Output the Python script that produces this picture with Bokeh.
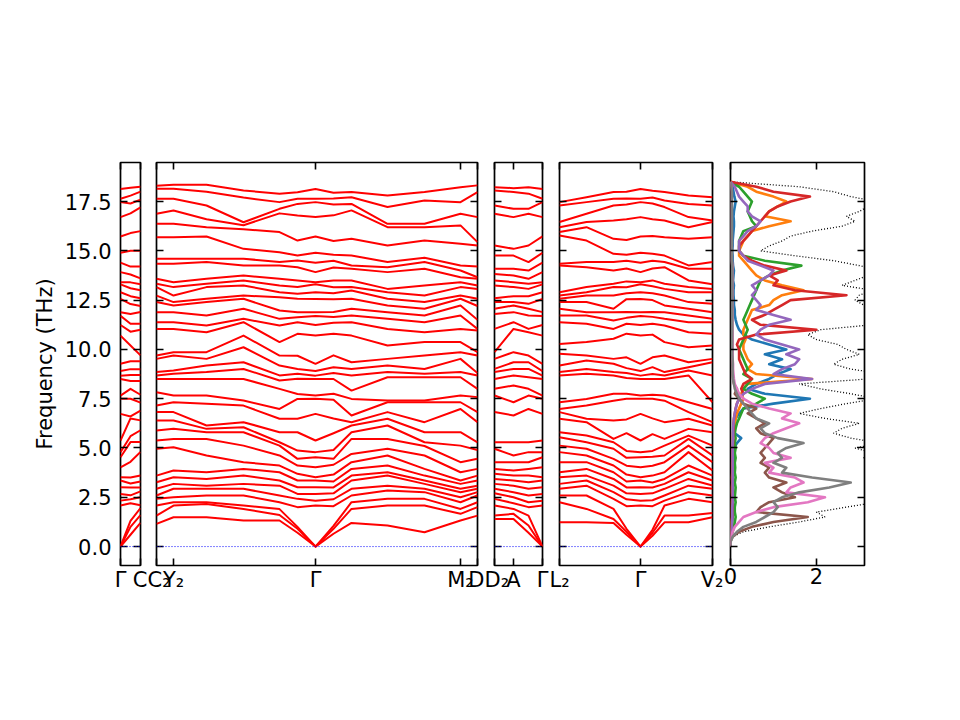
import numpy as np
from bokeh.plotting import figure
from bokeh.layouts import row
from bokeh.models import FixedTicker, LinearAxis, Range1d, PrintfTickFormatter, Span, CustomJSTickFormatter
from bokeh.embed import file_html
from bokeh.resources import INLINE

FONT = "DejaVu Sans"
FS = "21px"
YMIN, YMAX = -0.96, 19.48
y_ticks = [0.0, 2.5, 5.0, 7.5, 10.0, 12.5, 15.0, 17.5]

# ---------------- band data (THz), sorted per k-point ----------------
G = [0, 0, 0, 2.08, 2.33, 2.67, 3.01, 3.35, 3.52, 4.02, 4.53, 4.79, 5.38, 6.73, 7.5, 7.66, 8.5, 8.67,
     8.9, 9.27, 10.7, 11.24, 11.7, 11.89, 12.56, 12.9, 13.3, 13.41, 13.92, 14.4, 14.9, 15.73, 16.71,
     17.47, 17.64, 18.14]

# panel 1: Gamma - C
p1_k = [0, 10, 20]
p1_mid = [0.6, 1.0, 1.3, 2.2, 2.4, 2.6, 3.0, 3.2, 3.5, 4.3, 5.3, 5.6, 6.5, 6.6, 7.5, 8.0, 8.4, 8.7, 9.0,
          9.4, 10.2, 10.9, 11.3, 11.8, 12.3, 12.7, 13.1, 13.4, 13.8, 14.2, 15.0, 15.9, 16.9, 17.4, 17.8, 18.2]
p1_C = [1.2, 1.6, 1.95, 2.1, 2.5, 2.8, 3.0, 3.3, 3.6, 4.8, 5.3, 5.9, 6.4, 6.9, 7.3, 7.7, 8.4, 8.7, 9.0,
        9.4, 9.7, 11.0, 11.3, 11.9, 12.2, 12.6, 13.0, 13.3, 13.6, 14.2, 15.0, 16.0, 17.2, 17.6, 18.0, 18.25]
p1_cols = [G, p1_mid, p1_C]
p1_ticks = [0, 20]
p1_labels = {0: "Γ", 20: "C"}

# panel 2: C2 - Y2 - Gamma - M2 - D
p2_k = [0, 17, 50, 87, 123, 141, 159, 177, 195, 231, 268, 304, 321]
C2 = [1.15, 1.57, 2.08, 2.42, 2.59, 2.93, 3.26, 3.6, 4.96, 5.38, 5.89, 6.39, 6.82, 7.15, 7.83, 8.5, 8.68,
      8.85, 9.52, 9.69, 11.04, 11.38, 11.89, 12.4, 12.73, 13.16, 13.33, 13.58, 14.34, 14.6, 15.69, 16.37,
      16.88, 17.64, 18.15, 18.3]
Y2 = [1.49, 2.08, 2.25, 2.5, 2.93, 3.18, 3.52, 3.86, 5.04, 5.46, 5.97, 6.39, 6.82, 7.32, 7.66, 8.5, 8.76,
      8.93, 9.69, 9.86, 11.04, 11.38, 11.89, 12.23, 12.4, 12.73, 13.16, 13.41, 14.34, 14.6, 15.69, 16.37,
      17.05, 17.64, 18.15, 18.35]
YG1 = [1.49, 2.16, 2.25, 2.59, 2.93, 3.09, 3.43, 3.77, 4.62, 5.46, 5.8, 5.97, 6.14, 7.24, 7.66, 8.5, 8.85,
       9.18, 9.52, 9.86, 10.87, 11.21, 11.72, 12.4, 12.57, 13.16, 13.33, 13.58, 14.43, 14.6, 15.73, 16.2,
       16.6, 17.3, 18.0, 18.35]
YG2 = [1.32, 1.91, 2.08, 2.59, 2.93, 3.18, 3.6, 3.94, 4.28, 5.12, 5.8, 6.05, 6.31, 7.15, 7.41, 8.5, 9.01,
       9.35, 10.11, 10.7, 11.38, 11.55, 12.06, 12.57, 12.73, 13.24, 13.5, 13.75, 14.26, 14.6, 15.1, 16.1,
       16.3, 16.45, 17.7, 18.06]
YG3 = [1.32, 1.6, 1.9, 2.25, 2.59, 3.09, 3.35, 3.77, 4.11, 4.62, 5.12, 5.29, 5.8, 6.48, 6.98, 8.0, 8.42,
       8.68, 9.18, 9.69, 10.37, 11.21, 11.55, 11.97, 12.65, 12.9, 13.24, 13.58, 14.26, 14.43, 14.93, 15.95,
       16.9, 17.13, 17.47, 17.9]
YG4 = [0.7, 0.9, 1.0, 2.0, 2.42, 2.67, 3.01, 3.35, 3.69, 4.11, 4.45, 4.87, 5.8, 6.48, 7.49, 7.74, 8.51,
       8.76, 9.01, 9.68, 10.79, 11.38, 11.63, 11.89, 12.57, 12.82, 13.16, 13.49, 14.17, 14.51, 14.76, 15.52,
       16.79, 17.38, 17.64, 17.97]
GM0 = [0.65, 0.9, 1.05, 2.05, 2.4, 2.7, 3.0, 3.3, 3.65, 4.15, 4.45, 4.9, 5.75, 6.5, 7.45, 7.75, 8.5, 8.8,
       9.1, 9.7, 10.8, 11.35, 11.65, 11.9, 12.55, 12.85, 13.15, 13.5, 14.15, 14.5, 14.8, 15.5, 16.8, 17.35,
       17.65, 17.95]
GM1 = [1.2, 1.91, 2.25, 2.59, 2.93, 3.35, 3.6, 3.94, 4.28, 4.7, 5.46, 5.8, 6.14, 6.31, 6.65, 7.49, 7.91,
       8.68, 9.01, 9.35, 10.7, 11.38, 11.72, 12.06, 12.57, 12.99, 13.16, 13.5, 14.09, 14.26, 14.76, 15.61,
       17.05, 17.38, 17.72, 17.98]
GM2 = [1.07, 2.08, 2.42, 2.84, 3.09, 3.6, 3.77, 4.11, 4.62, 4.96, 5.46, 6.14, 6.48, 6.82, 7.32, 7.41, 8.59,
       8.85, 9.18, 9.52, 10.2, 11.04, 11.55, 11.89, 12.23, 12.57, 12.9, 13.07, 13.92, 14.17, 14.43, 15.27,
       16.2, 16.37, 17.22, 17.81]
GM3 = [0.73, 2.08, 2.42, 2.76, 2.93, 3.18, 3.35, 3.6, 3.94, 4.62, 5.1, 5.29, 5.8, 6.31, 7.32, 7.41, 8.59,
       8.76, 9.01, 9.69, 10.37, 10.87, 11.38, 11.72, 12.06, 12.4, 12.73, 13.24, 14.09, 14.43, 14.65, 15.52,
       16.2, 16.37, 17.55, 17.98]
M2 = [1.32, 1.66, 1.91, 2.25, 2.5, 2.76, 2.93, 3.18, 3.35, 3.77, 4.28, 5.12, 5.8, 6.98, 7.32, 7.66, 8.59,
      8.85, 9.52, 9.86, 10.37, 11.04, 11.72, 12.23, 12.57, 12.73, 13.16, 13.41, 13.66, 14.0, 14.26, 15.36,
      16.29, 16.88, 17.47, 18.23]
D = [1.57, 2.0, 2.25, 2.59, 2.76, 2.93, 3.09, 3.35, 3.6, 3.94, 4.45, 4.9, 5.29, 6.31, 6.82, 7.58, 8.0, 8.68,
     8.8, 9.69, 9.86, 10.96, 11.04, 11.5, 12.2, 12.57, 13.07, 13.24, 13.58, 13.66, 14.2, 15.27, 15.44, 16.71,
     17.98, 18.32]
p2_cols = [C2, Y2, YG1, YG2, YG3, YG4, G, GM0, GM1, GM2, GM3, M2, D]
p2_ticks = [0, 17, 159, 304, 321]
p2_labels = {0: "C₂", 17: "Y₂", 159: "Γ", 304: "M₂", 321: "D"}

# panel 3: D2 - A - Gamma
p3_k = [0, 19, 34, 48]
D2 = [1.4, 1.57, 2.08, 2.42, 2.7, 2.93, 3.18, 3.43, 3.69, 3.94, 4.28, 4.96, 5.29, 6.82, 7.66, 8.0, 8.5, 8.85,
      9.01, 9.52, 9.86, 11.04, 11.8, 12.06, 12.4, 12.6, 13.24, 13.5, 13.83, 14.09, 14.76, 15.27, 16.88, 17.3,
      18.06, 18.23]
A = [1.4, 1.66, 1.91, 2.2, 2.5, 2.76, 3.09, 3.35, 3.6, 3.86, 4.28, 4.62, 5.29, 6.65, 7.32, 8.17, 8.68, 9.01,
     9.35, 9.86, 11.04, 11.38, 11.89, 12.23, 12.4, 12.7, 13.16, 13.41, 13.75, 14.09, 14.76, 15.1, 16.71, 17.13,
     17.98, 18.18]
AG = [0.7, 1.07, 1.57, 2.0, 2.25, 2.59, 2.93, 3.26, 3.6, 3.94, 4.28, 4.79, 5.29, 6.98, 7.66, 8.0, 8.59, 9.01,
      9.35, 9.69, 10.87, 11.04, 11.72, 12.06, 12.31, 12.7, 13.07, 13.33, 13.58, 14.0, 14.43, 15.27, 16.88,
      17.13, 17.9, 18.23]
p3_cols = [D2, A, AG, G]
p3_ticks = [0, 19, 48]
p3_labels = {0: "D₂", 19: "A", 48: "Γ"}

# panel 4: L2 - Gamma - V2
p4_k = [0, 27, 54, 67, 81, 93, 105, 129, 153]
L2 = [1.23, 2.25, 2.59, 2.93, 3.18, 3.52, 3.77, 4.28, 4.79, 5.12, 5.55, 5.8, 6.48, 6.82, 6.98, 7.32, 8.68,
      8.85, 9.18, 9.78, 10.28, 11.38, 11.72, 12.06, 12.4, 12.57, 12.73, 12.9, 14.26, 14.34, 15.78, 15.95,
      16.2, 16.46, 17.3, 17.47]
LG1 = [1.23, 1.91, 2.59, 3.09, 3.35, 3.6, 3.94, 4.28, 4.62, 4.96, 5.29, 5.63, 6.31, 6.48, 7.15, 7.49, 8.76,
       9.01, 9.44, 9.69, 10.37, 11.3, 11.72, 11.89, 12.4, 12.73, 12.9, 13.16, 14.17, 14.43, 15.52, 16.2,
       16.46, 16.88, 17.47, 17.72]
LG2 = [1.2, 1.4, 1.91, 2.42, 2.76, 3.09, 3.43, 3.77, 4.11, 4.45, 4.96, 5.29, 5.46, 6.39, 7.4, 7.75, 8.68,
       8.85, 9.27, 9.52, 10.54, 11.04, 11.47, 11.89, 12.06, 12.73, 13.16, 13.33, 14.0, 14.43, 14.85, 15.61,
       16.54, 17.3, 17.64, 17.98]
LG3 = [0.6, 0.75, 0.9, 2.05, 2.4, 2.7, 3.0, 3.3, 3.65, 4.1, 4.5, 4.85, 5.75, 6.45, 7.5, 7.75, 8.55, 8.8,
       9.05, 9.6, 10.8, 11.3, 11.6, 11.9, 12.55, 12.85, 13.15, 13.45, 14.1, 14.5, 14.8, 15.55, 16.6, 17.35,
       17.65, 18.0]
GV0 = [0.55, 0.7, 0.85, 2.05, 2.35, 2.7, 3.0, 3.25, 3.6, 4.1, 4.55, 4.85, 5.7, 6.5, 7.5, 7.7, 8.5, 8.75,
       9.1, 9.6, 10.75, 11.3, 11.65, 11.9, 12.5, 12.85, 13.2, 13.5, 14.1, 14.5, 14.85, 15.75, 16.6, 17.4,
       17.7, 18.05]
GV1 = [1.23, 1.57, 2.08, 2.33, 2.59, 2.93, 3.18, 3.43, 3.77, 4.28, 4.62, 5.12, 5.46, 6.31, 7.4, 7.66, 8.5,
       8.68, 8.85, 9.69, 10.37, 11.21, 11.55, 11.89, 12.23, 12.73, 13.07, 13.33, 14.17, 14.43, 14.76, 15.69,
       16.54, 17.22, 17.55, 17.98]
GV2 = [1.23, 1.57, 2.42, 2.76, 3.09, 3.43, 3.77, 4.11, 4.79, 5.12, 5.46, 5.63, 5.97, 6.48, 6.82, 7.32, 8.68,
       8.93, 9.1, 9.35, 10.11, 10.87, 11.38, 11.72, 12.06, 12.4, 12.9, 13.16, 13.5, 14.09, 14.26, 15.61, 16.2,
       16.71, 17.38, 17.81]
V2 = [1.49, 1.7, 2.25, 2.59, 2.93, 3.1, 3.35, 3.6, 3.86, 4.28, 4.62, 5.12, 5.8, 6.14, 6.31, 6.98, 7.32, 8.68,
      9.35, 9.52, 10.2, 10.8, 11.38, 11.55, 11.89, 12.31, 12.9, 13.07, 13.3, 14.09, 14.43, 15.69, 16.46,
      16.54, 17.3, 17.72]
p4_cols = [L2, LG1, LG2, LG3, G, GV0, GV1, GV2, V2]
p4_ticks = [0, 81, 153]
p4_labels = {0: "L₂", 81: "Γ", 153: "V₂"}

# ---------------- DOS data (states/THz), sampled every 0.25 THz ----------------
dos_freq = np.round(np.arange(75) * 0.25, 2)
dos_total = [0.0, 0.0, 0.05, 0.3, 0.9, 1.6, 2.2, 2.0, 2.7, 3.4, 3.6, 3.3, 3.8, 4.0, 3.5, 3.2,
             3.4, 3.6, 3.1, 3.3, 2.9, 3.5, 2.8, 2.4, 2.6, 3.0, 2.2, 1.6, 2.1, 2.7, 3.4, 2.8,
             2.1, 1.6, 3.2, 3.6, 2.8, 2.4, 2.6, 3.0, 2.7, 2.5, 2.0, 1.8, 2.1, 3.3, 3.6, 3.4,
             3.2, 3.1, 2.9, 3.0, 3.3, 2.6, 2.9, 3.2, 3.5, 3.0, 2.4, 1.5, 0.7, 0.9, 1.2, 1.4,
             1.9, 2.6, 2.9, 2.7, 3.0, 3.2, 3.4, 2.8, 2.4, 1.6, 0.0]
pdos_blue = [0, 0, 0.01, 0.02, 0.03, 0.04, 0.05, 0.05, 0.06, 0.06, 0.07, 0.06, 0.06, 0.07, 0.06, 0.06,
             0.07, 0.06, 0.08, 0.1, 0.08, 0.15, 0.25, 0.1, 0.08, 0.1, 0.12, 0.2, 0.3, 1.0, 1.85, 0.8,
             0.4, 0.6, 0.9, 1.1, 1.4, 0.9, 1.2, 0.8, 1.3, 0.9, 0.5, 0.3, 0.2, 0.15, 0.12, 0.1,
             0.1, 0.08, 0.08, 0.07, 0.07, 0.08, 0.06, 0.07, 0.08, 0.06, 0.05, 0.05, 0.04, 0.05, 0.05, 0.06,
             0.07, 0.08, 0.08, 0.07, 0.08, 0.1, 0.12, 0.09, 0.07, 0.05, 0.0]
pdos_orange = [0, 0, 0, 0.01, 0.02, 0.02, 0.03, 0.03, 0.03, 0.03, 0.04, 0.03, 0.03, 0.04, 0.03, 0.04,
               0.04, 0.04, 0.05, 0.05, 0.05, 0.06, 0.06, 0.07, 0.08, 0.1, 0.12, 0.15, 0.2, 0.25, 0.3, 0.25,
               0.3, 0.4, 1.9, 0.6, 0.4, 0.5, 0.4, 0.35, 0.3, 0.3, 0.35, 0.3, 0.3, 0.35, 0.4, 0.45,
               0.5, 0.9, 1.0, 1.2, 1.7, 1.2, 0.8, 0.6, 0.5, 0.4, 0.3, 0.2, 0.2, 0.25, 0.3, 0.4,
               0.5, 0.9, 1.4, 0.8, 0.9, 1.1, 1.3, 1.0, 0.6, 0.4, 0.0]
pdos_green = [0, 0, 0.02, 0.05, 0.08, 0.1, 0.12, 0.1, 0.1, 0.12, 0.1, 0.11, 0.12, 0.1, 0.12, 0.1,
              0.11, 0.1, 0.12, 0.1, 0.12, 0.1, 0.12, 0.1, 0.12, 0.15, 0.2, 0.25, 0.3, 0.6, 0.8, 0.5,
              0.3, 0.4, 0.5, 0.3, 0.4, 0.35, 0.3, 0.25, 0.2, 0.25, 0.3, 0.35, 0.4, 0.35, 0.3, 0.35,
              0.4, 0.45, 0.5, 0.55, 0.6, 0.65, 0.7, 0.9, 1.2, 1.65, 0.8, 0.3, 0.2, 0.2, 0.2, 0.25,
              0.3, 0.6, 0.5, 0.45, 0.4, 0.45, 0.5, 0.4, 0.3, 0.2, 0.0]
pdos_red = [0, 0, 0.01, 0.02, 0.03, 0.03, 0.04, 0.04, 0.04, 0.05, 0.05, 0.05, 0.05, 0.05, 0.05, 0.05,
            0.05, 0.05, 0.05, 0.05, 0.05, 0.06, 0.06, 0.06, 0.07, 0.07, 0.08, 0.1, 0.12, 0.15, 0.2, 0.3,
            0.25, 0.3, 0.5, 0.35, 0.3, 0.25, 0.2, 0.2, 0.2, 0.15, 0.2, 0.6, 2.0, 0.7, 0.5, 0.8,
            1.0, 1.2, 1.4, 2.7, 1.5, 1.0, 1.1, 0.9, 1.3, 0.8, 0.5, 0.3, 0.2, 0.2, 0.3, 0.4,
            0.5, 0.6, 0.7, 0.8, 0.9, 1.1, 1.4, 1.85, 1.0, 0.6, 0.0]
pdos_purple = [0, 0, 0.01, 0.02, 0.03, 0.03, 0.04, 0.04, 0.04, 0.05, 0.05, 0.05, 0.05, 0.05, 0.05, 0.05,
               0.05, 0.05, 0.05, 0.05, 0.05, 0.05, 0.06, 0.06, 0.06, 0.07, 0.08, 0.1, 0.12, 0.15, 0.2, 0.3,
               0.5, 0.8, 1.9, 1.0, 1.2, 1.5, 1.6, 1.3, 1.6, 1.2, 0.8, 0.6, 0.7, 0.9, 1.4, 1.0,
               0.6, 0.7, 0.6, 0.5, 0.6, 0.5, 0.7, 0.9, 1.0, 0.7, 0.4, 0.3, 0.2, 0.2, 0.2, 0.3,
               0.4, 0.6, 0.7, 0.5, 0.4, 0.4, 0.3, 0.2, 0.15, 0.1, 0.0]
pdos_brown = [0, 0, 0.05, 0.2, 0.5, 1.0, 1.8, 0.6, 0.7, 0.9, 1.5, 1.2, 1.0, 1.3, 0.9, 0.8,
              0.9, 0.7, 0.8, 0.7, 0.8, 0.9, 1.0, 0.7, 0.6, 0.8, 0.6, 0.4, 0.6, 0.3, 0.2, 0.1,
              0.15, 0.08, 0.06, 0.05, 0.05, 0.04, 0.04, 0.04, 0.04, 0.04, 0.04, 0.04, 0.04, 0.04, 0.04, 0.04,
              0.04, 0.04, 0.04, 0.04, 0.04, 0.04, 0.04, 0.04, 0.04, 0.04, 0.03, 0.03, 0.03, 0.03, 0.03, 0.03,
              0.03, 0.03, 0.03, 0.03, 0.03, 0.03, 0.03, 0.03, 0.03, 0.02, 0.0]
pdos_pink = [0, 0, 0.02, 0.05, 0.1, 0.2, 0.3, 0.6, 1.0, 1.8, 2.2, 1.3, 1.4, 1.7, 1.5, 0.9,
             1.0, 0.8, 1.4, 1.0, 0.9, 0.7, 0.8, 1.0, 1.3, 1.6, 1.2, 1.4, 0.9, 0.5, 0.3, 0.2,
             0.15, 0.1, 0.08, 0.07, 0.06, 0.06, 0.05, 0.05, 0.05, 0.05, 0.05, 0.05, 0.04, 0.04, 0.04, 0.04,
             0.04, 0.04, 0.04, 0.04, 0.04, 0.04, 0.04, 0.04, 0.04, 0.04, 0.03, 0.03, 0.03, 0.03, 0.03, 0.03,
             0.03, 0.03, 0.03, 0.03, 0.03, 0.03, 0.03, 0.03, 0.03, 0.02, 0.0]
pdos_gray = [0, 0, 0.05, 0.15, 0.3, 0.6, 0.8, 1.0, 1.1, 1.0, 1.2, 1.6, 2.3, 2.8, 1.9, 1.2,
             1.3, 1.0, 1.2, 1.1, 1.3, 1.7, 1.1, 0.8, 0.7, 0.9, 0.6, 0.5, 0.4, 0.3, 0.2, 0.15,
             0.1, 0.08, 0.06, 0.05, 0.05, 0.05, 0.05, 0.04, 0.04, 0.04, 0.04, 0.04, 0.04, 0.04, 0.04, 0.04,
             0.04, 0.04, 0.04, 0.04, 0.04, 0.04, 0.04, 0.04, 0.04, 0.04, 0.03, 0.03, 0.03, 0.03, 0.03, 0.03,
             0.03, 0.03, 0.03, 0.03, 0.03, 0.03, 0.03, 0.03, 0.03, 0.02, 0.0]
pdos_list = [pdos_blue, pdos_orange, pdos_green, pdos_red, pdos_purple, pdos_brown, pdos_pink, pdos_gray]
pdos_colors = ["#1f77b4", "#ff7f0e", "#2ca02c", "#d62728", "#9467bd", "#8c564b", "#e377c2", "#7f7f7f"]
dos_ticks = [0, 2]
DOS_MAX = 3.12

EMPTY = CustomJSTickFormatter(code="return '';")


def style_axis(ax, show_labels):
    ax.axis_line_color = None
    ax.major_tick_in = 7
    ax.major_tick_out = 0
    ax.major_tick_line_width = 1.6
    ax.major_tick_line_color = "black"
    ax.minor_tick_line_color = None
    ax.major_label_text_font = FONT
    ax.major_label_text_color = "black"
    ax.major_label_text_font_size = FS
    if not show_labels:
        ax.formatter = EMPTY
        ax.major_label_standoff = 0


def make_panel(xmax, frame_w, bl, br, xticks, xlabels=None, ylab=False):
    p = figure(frame_width=frame_w, frame_height=403,
               x_range=Range1d(0, xmax), y_range=Range1d(YMIN, YMAX),
               output_backend="svg", toolbar_location=None,
               x_axis_location=None, y_axis_location=None,
               min_border_left=bl, min_border_right=br, min_border_top=162, min_border_bottom=60)
    p.xgrid.visible = False
    p.ygrid.visible = False
    p.outline_line_color = "black"
    p.outline_line_width = 1.7
    p.background_fill_color = "white"
    p.border_fill_color = "white"

    xb = LinearAxis(ticker=FixedTicker(ticks=xticks))
    style_axis(xb, True)
    xb.major_label_standoff = 2
    if xlabels:
        xb.major_label_overrides = xlabels
    p.add_layout(xb, "below")

    xt = LinearAxis(ticker=FixedTicker(ticks=xticks))
    style_axis(xt, False)
    p.add_layout(xt, "above")

    yl = LinearAxis(ticker=FixedTicker(ticks=y_ticks))
    style_axis(yl, ylab)
    if ylab:
        yl.formatter = PrintfTickFormatter(format="%.1f")
        yl.major_label_standoff = 9
        yl.axis_label = "Frequency (THz)"
        yl.axis_label_text_font = FONT
        yl.axis_label_text_font_size = FS
        yl.axis_label_text_font_style = "normal"
        yl.axis_label_text_color = "black"
        yl.axis_label_standoff = 5
    p.add_layout(yl, "left")

    yr = LinearAxis(ticker=FixedTicker(ticks=y_ticks))
    style_axis(yr, False)
    p.add_layout(yr, "right")
    return p


def draw_bands(p, kpos, cols):
    bands = np.array(cols, dtype=float).T
    p.multi_line(xs=[list(kpos)] * bands.shape[0], ys=bands.tolist(),
                 line_color="red", line_width=2, line_join="round")
    p.add_layout(Span(location=0, dimension="width", line_color="blue",
                      line_width=1, line_dash="1 2"))


p1 = make_panel(p1_k[-1], 20, 120, 7, p1_ticks, p1_labels, ylab=True)
draw_bands(p1, p1_k, p1_cols)

p2 = make_panel(p2_k[-1], 321, 9, 7, p2_ticks, p2_labels)
draw_bands(p2, p2_k, p2_cols)

p3 = make_panel(p3_k[-1], 48, 10, 7, p3_ticks, p3_labels)
draw_bands(p3, p3_k, p3_cols)

p4 = make_panel(p4_k[-1], 153, 10, 11, p4_ticks, p4_labels)
draw_bands(p4, p4_k, p4_cols)

p5 = make_panel(DOS_MAX, 134, 7, 40, dos_ticks)
p5.line(dos_total, dos_freq, line_color="black", line_width=1.3, line_dash="1 2")
for vals, col in zip(pdos_list, pdos_colors):
    p5.line(vals, dos_freq, line_color=col, line_width=2.6, line_join="round")

layout = row(p1, p2, p3, p4, p5)
open("out.html", "w").write(file_html(layout, INLINE))
